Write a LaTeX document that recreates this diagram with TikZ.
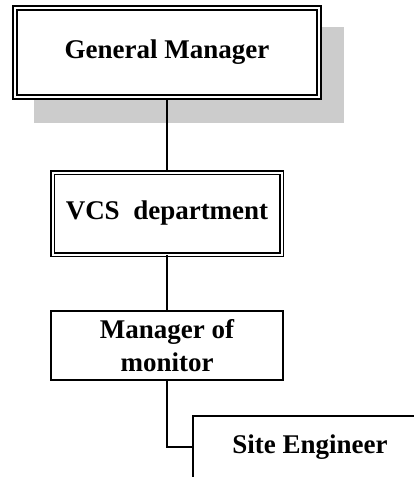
\documentclass[tikz,border=0pt]{standalone}
\usepackage{fontspec}
\setmainfont{Liberation Serif}
\definecolor{shadowgray}{RGB}{204,204,204}
\begin{document}
\begin{tikzpicture}[x=1pt,y=-1pt,
  box/.style={draw, line width=1.9pt, fill=white, inner sep=0pt, align=center,
    font=\fontsize{27}{33}\selectfont\bfseries},
  dblbox/.style={box, double, double distance=2pt},
  link/.style={draw, line width=1.9pt}]
\clip (0,0) rectangle (414,477);
\fill[shadowgray] (34,27) rectangle (344,123);
\node[dblbox, line width=2pt, minimum width=304pt, minimum height=89pt] (gm) at (167,52.5) {General Manager};
\node[dblbox, line width=1.6pt, minimum width=229pt, minimum height=82pt] (vcs) at (167,213.5) {VCS\ \ department};
\node[box, minimum width=232pt, minimum height=69pt] (mgr) at (167,345.5) {Manager of\\monitor};
\node[box, minimum width=234pt, minimum height=62pt] (site) at (310,447) {Site Engineer};
\draw[link] (gm.south) -- (vcs.north);
\draw[link] (vcs.south) -- (mgr.north);
\draw[link] (mgr.south) |- (site.west);
\end{tikzpicture}
\end{document}
